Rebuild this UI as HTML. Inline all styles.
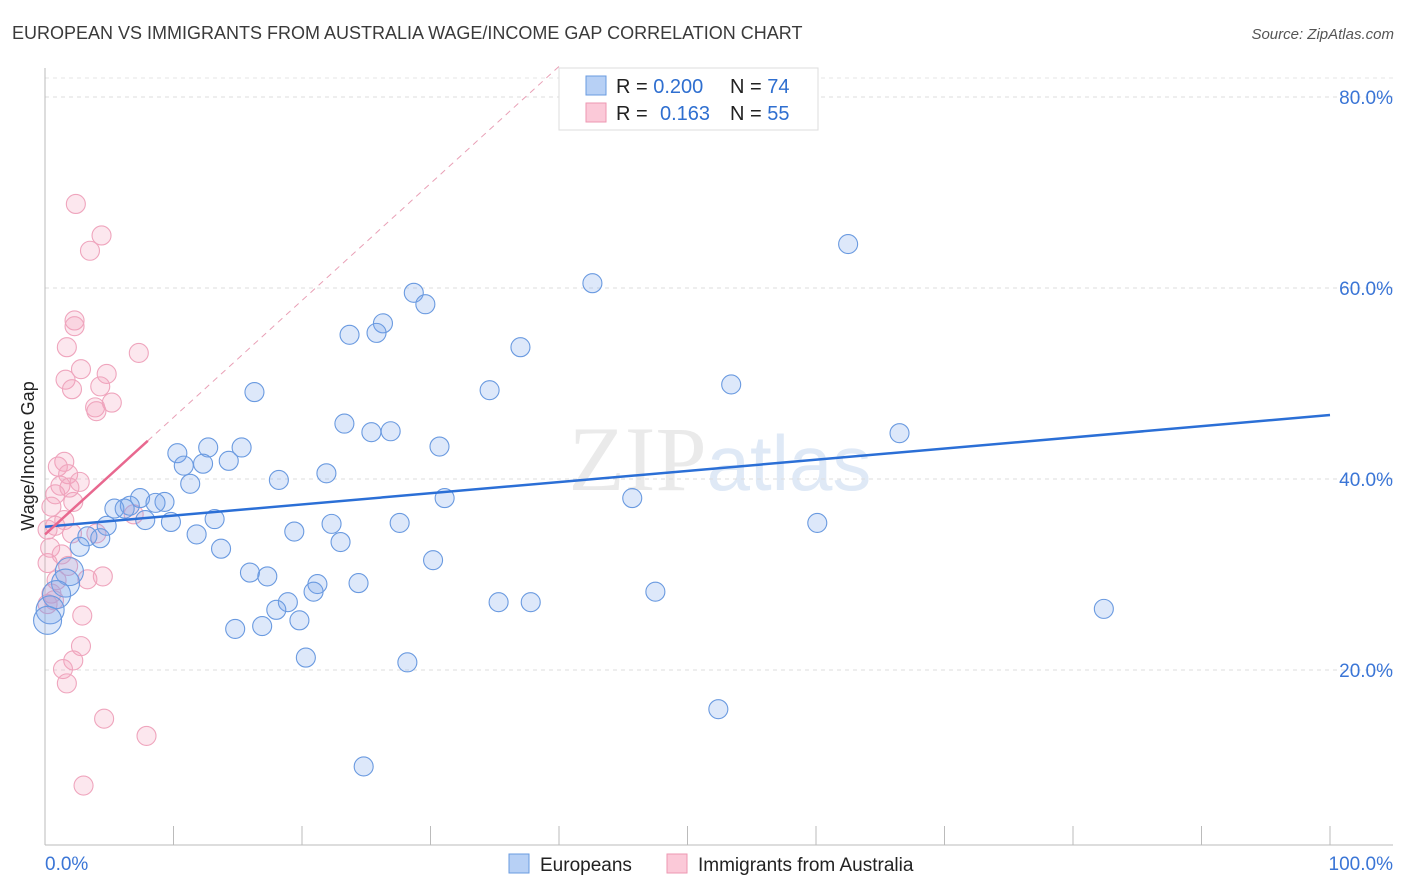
<!DOCTYPE html>
<html><head><meta charset="utf-8"><style>
body{margin:0;background:#fff;font-family:"Liberation Sans",sans-serif}
svg{display:block}
</style></head><body>
<svg id="c" width="1406" height="892">
<text x="12" y="39" font-size="18" fill="#3a3a3a">EUROPEAN VS IMMIGRANTS FROM AUSTRALIA WAGE/INCOME GAP CORRELATION CHART</text>
<text x="1394" y="39" font-size="15" fill="#555" font-style="italic" text-anchor="end">Source: ZipAtlas.com</text>
<text x="720" y="490" font-size="92" text-anchor="middle" fill="#e2e2e2" opacity="0.7" font-family="Liberation Serif,serif">ZIP<tspan fill="#d2e0f3" font-family="Liberation Sans,sans-serif" font-size="78">atlas</tspan></text>
<text transform="translate(34,456) rotate(-90)" font-size="18" fill="#222" text-anchor="middle">Wage/Income Gap</text>
<g id="grid"></g><g id="marks"></g><g id="lines"></g>
<g>
<rect x="559" y="68" width="259" height="62" fill="#fff" stroke="#ddd"/>
<rect x="586" y="76" width="20" height="19" fill="#b7d0f5" stroke="#6a9be0"/>
<rect x="586" y="103" width="20" height="19" fill="#fbc9d8" stroke="#ee97b2"/>
<text x="616" y="93" font-size="20" fill="#222">R = <tspan fill="#2f6fd0">0.200</tspan><tspan x="730">N = </tspan><tspan fill="#2f6fd0">74</tspan></text>
<text x="616" y="120" font-size="20" fill="#222">R = <tspan x="660" fill="#2f6fd0">0.163</tspan><tspan x="730">N = </tspan><tspan fill="#2f6fd0">55</tspan></text>
</g>
<g>
<rect x="509" y="854" width="20" height="19" fill="#b7d0f5" stroke="#6a9be0"/>
<text x="540" y="871" font-size="19" fill="#222">Europeans</text>
<rect x="667" y="854" width="20" height="19" fill="#fbc9d8" stroke="#ee97b2"/>
<text x="698" y="871" font-size="19" fill="#222">Immigrants from Australia</text>
</g>
</svg>
<script>
const yTicks=[20,40,60,80];
const yTickLabels=["20.0%","40.0%","60.0%","80.0%"];
const xTicks=[0,10,20,30,40,50,60,70,80,90,100];
const blueX=[62.5,42.6,28.7,29.6,26.3,23.7,25.8,37.0,53.4,34.6,16.3,23.3,25.4,26.9,66.5,30.7,15.3,12.7,10.3,14.3,12.3,10.8,21.9,18.2,11.3,31.1,45.7,7.4,9.3,8.6,6.6,5.4,6.2,7.8,9.8,13.2,22.3,27.6,60.1,4.8,3.3,4.3,11.8,19.4,23.0,2.7,13.7,30.2,15.95,17.3,24.4,21.2,20.9,47.5,1.9,1.6,0.9,0.4,0.2,35.3,37.8,18.9,18.0,82.4,19.8,14.8,16.9,20.3,28.2,52.4,24.8];
const blueY=[64.6,60.5,59.5,58.3,56.3,55.1,55.3,53.8,49.9,49.3,49.1,45.8,44.9,45.0,44.8,43.4,43.3,43.3,42.7,41.9,41.6,41.4,40.6,39.9,39.5,38.0,38.0,38.0,37.6,37.5,37.2,36.9,36.9,35.7,35.5,35.8,35.3,35.4,35.4,35.1,34.0,33.8,34.2,34.5,33.4,32.9,32.7,31.5,30.2,29.8,29.1,29.0,28.2,28.2,30.3,29.1,27.9,26.3,25.2,27.1,27.1,27.1,26.3,26.4,25.2,24.3,24.6,21.3,20.8,15.9,9.9];
const pinkX=[2.4,4.4,3.5,2.3,2.3,1.7,7.3,2.8,4.8,1.6,2.1,4.3,5.2,3.9,4.0,1.5,1.0,1.8,2.7,1.2,0.8,2.2,0.5,1.5,0.8,0.2,2.1,4.0,6.9,0.4,1.3,0.2,1.8,4.5,3.3,0.9,0.5,0.7,0.2,2.9,2.8,2.2,1.4,1.7,4.6,7.9,3.0,1.9];
const pinkY=[68.8,65.5,63.9,56.6,56.0,53.8,53.2,51.5,51.0,50.4,49.4,49.7,48.0,47.5,47.1,41.8,41.3,40.5,39.7,39.3,38.4,37.6,37.1,35.7,35.1,34.7,34.3,34.3,36.3,32.8,32.1,31.2,30.9,29.8,29.5,29.4,28.0,27.3,26.9,25.7,22.5,21.0,20.1,18.6,14.9,13.1,7.9,39.1];
const blueFit=[35.0,46.7];
const pinkFit=[34.2,44.0];
const pinkFitEnd=8;
const X=v=>45+v*12.85, Y=v=>861-v*9.55;
const NS="http://www.w3.org/2000/svg";
function mk(t,a,p){const e=document.createElementNS(NS,t);for(const k in a)e.setAttribute(k,a[k]);p.appendChild(e);return e;}
const grid=document.getElementById('grid'),marks=document.getElementById('marks'),lines=document.getElementById('lines');
yTicks.forEach((t,i)=>{
 const l=mk('line',{x1:45,x2:1393,y1:Y(t),y2:Y(t),stroke:'#ddd','stroke-dasharray':'4,4'},grid);
 
 
 const tx=mk('text',{x:1393,y:Y(t)+7,'font-size':19,fill:'#3a75d6','text-anchor':'end'},grid);
 tx.textContent=yTickLabels[i];
 
 
});
mk('line',{x1:45,x2:1393,y1:78,y2:78,stroke:'#e4e4e4','stroke-dasharray':'4,4'},grid);
const ax=mk('line',{x1:45,x2:1393,y1:845,y2:845,stroke:'#bbb'},grid);


const ay=mk('line',{x1:45,x2:45,y1:68,y2:845,stroke:'#bbb'},grid);


xTicks.forEach(t=>{const l=mk('line',{x1:X(t),x2:X(t),y1:826,y2:845,stroke:'#bbb'},grid);
 
 });
[['0.0%',45,'start'],['100.0%',1393,'end']].forEach(a=>{const t=mk('text',{x:a[1],y:870,'font-size':19,fill:'#3a75d6','text-anchor':a[2]},grid);t.textContent=a[0];
 
 });
function pts(xs,ys,fill,stroke,name,big){xs.forEach((x,i)=>{
 const r=big&&x<2.5&&ys[i]<31?14:9.5;
 const c=mk('circle',{cx:X(x),cy:Y(ys[i]),r:r,fill:fill,stroke:stroke,'stroke-width':1.1},marks);
 
 });}
pts(pinkX,pinkY,'rgba(244,160,188,0.25)','#efa5bd','point-australia',false);
pts(blueX,blueY,'rgba(120,165,235,0.25)','#6a9ae0','point-european',true);
const bl=mk('line',{x1:X(0),y1:Y(blueFit[0]),x2:X(100),y2:Y(blueFit[1]),stroke:'#2b6fd6','stroke-width':2.5},lines);


const slope=(pinkFit[1]-pinkFit[0])/pinkFitEnd;
const pd=mk('line',{x1:X(pinkFitEnd),y1:Y(pinkFit[1]),x2:X(40),y2:Y(pinkFit[0]+slope*40),stroke:'#e9a0b6','stroke-width':1,'stroke-dasharray':'6,5'},lines);


const pl=mk('line',{x1:X(0),y1:Y(pinkFit[0]),x2:X(pinkFitEnd),y2:Y(pinkFit[1]),stroke:'#e8688f','stroke-width':2.5},lines);


</script>
</body></html>
